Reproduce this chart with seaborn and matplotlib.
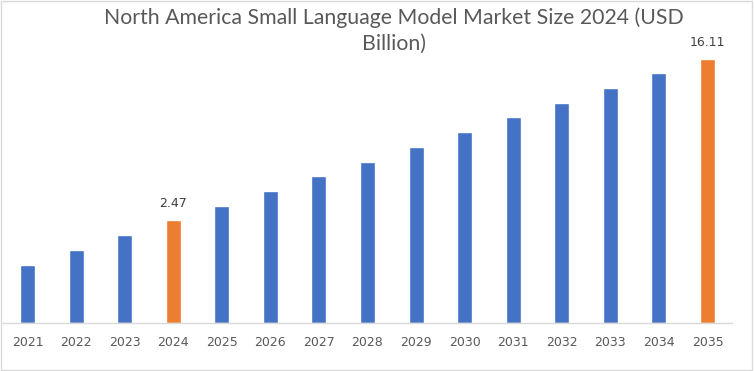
import pandas as pd
import seaborn as sns
import matplotlib.pyplot as plt
from matplotlib.patches import Rectangle

years = ["2021", "2022", "2023", "2024", "2025", "2026", "2027", "2028",
         "2029", "2030", "2031", "2032", "2033", "2034", "2035"]
# values (axis in the source is not zero based)
values = [-1.35, -0.08, 1.19, 2.47, 3.65, 4.92, 6.19, 7.38,
          8.65, 9.92, 11.19, 12.37, 13.64, 14.92, 16.11]
labelled = ["2024", "2035"]
axis_floor = -6.26

blue = "#4472C4"
orange = "#ED7D31"
grey = "#595959"

df = pd.DataFrame({"year": years, "value": values})
df["height"] = df["value"] - axis_floor
colors = {y: (orange if y in labelled else blue) for y in years}

sns.set_theme(style="white")
plt.rcParams["font.family"] = ["DejaVu Sans"]

fig = plt.figure(figsize=(7.54, 3.71), dpi=100)
ax = fig.add_axes([3.2 / 754, 48 / 371, 728.6 / 754, 264 / 371])

sns.barplot(data=df, x="year", y="height", hue="year", palette=colors,
            legend=False, width=0.31, bottom=axis_floor, errorbar=None,
            ax=ax, saturation=1)

ax.set_ylim(axis_floor, 16.11)
ax.set_xlim(-0.5, len(years) - 0.5)
ax.set_xlabel("")
ax.set_ylabel("")
ax.set_yticks([])
ax.tick_params(axis="x", length=0, pad=9, labelsize=9, labelcolor=grey)
for s in ["top", "left", "right"]:
    ax.spines[s].set_visible(False)
ax.spines["bottom"].set_color("#D9D9D9")
ax.spines["bottom"].set_linewidth(1)

for i, (y, v) in enumerate(zip(years, values)):
    if y in labelled:
        ax.annotate(f"{v:.2f}", (i, v), xytext=(0, 7), textcoords="offset points",
                    ha="center", va="bottom", fontsize=9, color="#404040",
                    annotation_clip=False)

fig.text(0.5225, 1 - 7 / 371,
         "North America Small Language Model Market Size 2024 (USD\nBillion)",
         ha="center", va="top", fontsize=15.3, color=grey, linespacing=1.42,
         family=["Lato", "DejaVu Sans"])

fig.patches.append(Rectangle((0.5 / 754, 1.5 / 371), 751.5 / 754, 368.5 / 371,
                             transform=fig.transFigure, fill=False,
                             edgecolor="#D9D9D9", linewidth=1))

fig.savefig("out.png", dpi=100)
